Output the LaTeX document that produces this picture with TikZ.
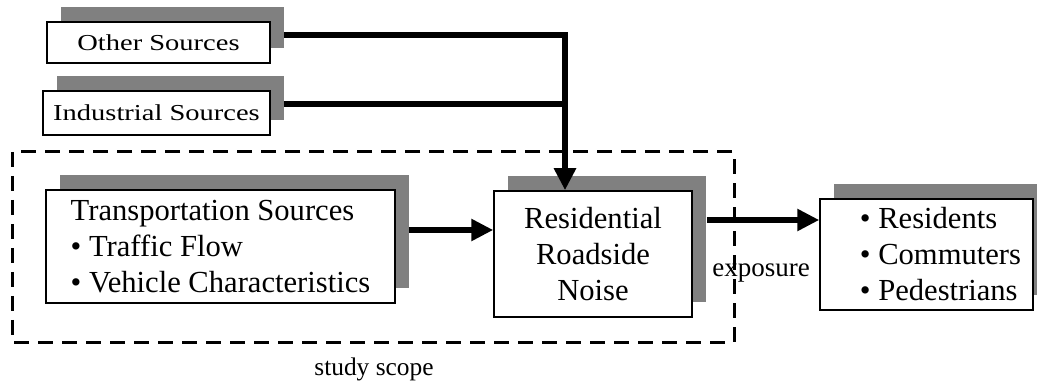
\documentclass[tikz,border=0pt]{standalone}
\usepackage{fontspec}
\setmainfont{Liberation Serif}
\newfontfamily\widefont{Liberation Serif}[FakeStretch=1.25]
\usetikzlibrary{arrows.meta,shadows}

\begin{document}
\begin{tikzpicture}[x=0.5pt,y=-0.5pt,
    sdw/.style={general shadow={fill=gray,shadow xshift=7pt,shadow yshift=7.5pt}},
    srcbox/.style={draw=black,fill=white,line width=0.75pt,sdw,inner sep=0pt,
      font=\widefont\fontsize{11.4}{13}\selectfont},
    mainbox/.style={draw=black,fill=white,line width=0.75pt,sdw,inner sep=0pt,
      font=\fontsize{15.3}{18}\selectfont},
    flow/.style={line width=2.75pt,-{Triangle[length=11pt,width=10.5pt]}}]
  \useasboundingbox (0,0) rectangle (1037,384);

  % sources
  \node[srcbox,minimum width=111.5pt,minimum height=20.5pt] (other) at (158.5,42.5) {Other Sources};
  \node[srcbox,minimum width=113.5pt,minimum height=22pt] (indus) at (156.5,113) {Industrial Sources};
  \node[mainbox,align=left,minimum width=174.5pt,minimum height=56.5pt] (trans) at (220.5,246.5)
    {Transportation Sources\\\textbullet{} Traffic Flow\\\textbullet{} Vehicle Characteristics};

  % noise and receivers
  \node[mainbox,align=center,minimum width=99pt,minimum height=63pt] (noise) at (593,254)
    {Residential\\Roadside\\Noise};
  \node[mainbox,align=left,minimum width=106.5pt,minimum height=55.5pt] (people) at (926.5,254.5)
    {\hspace*{14pt}\textbullet{} Residents\\\hspace*{14pt}\textbullet{} Commuters\\\hspace*{14pt}\textbullet{} Pedestrians};

  \coordinate (drop) at ([xshift=-14pt]noise.north);
  \coordinate (indus out) at ([xshift=6.5pt,yshift=4.5pt]indus.east);
  \coordinate (trans out) at ([xshift=6.5pt,yshift=8.25pt]trans.east);
  \coordinate (noise out) at ([xshift=7pt,yshift=17pt]noise.east);

  \draw[flow] ([xshift=6.5pt,yshift=3.75pt]other.east) -| (drop);
  \draw[line width=2.75pt] (indus out) -- (indus out -| drop);
  \draw[flow] (trans out) -- (trans out -| noise.west);
  \draw[flow] (noise out) -- (noise out -| people.west);

  \node[font=\fontsize{13.5}{16}\selectfont,anchor=base] (expo) at (761,277) {exposure};
  \node[font=\fontsize{12.7}{15}\selectfont,anchor=base] (scope label) at (374,375) {study scope};

  % study scope frame
  \draw[line width=1.5pt,dash pattern=on 7.5pt off 4.5pt] (12,152) rectangle (734,342);
\end{tikzpicture}
\end{document}
